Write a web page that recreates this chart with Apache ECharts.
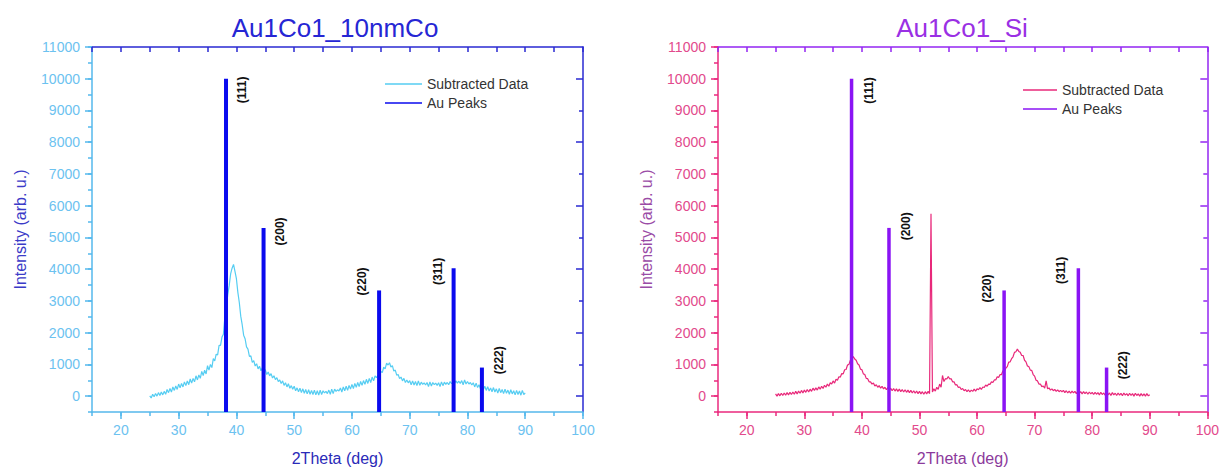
<!DOCTYPE html>
<html><head><meta charset="utf-8">
<script src="https://cdn.jsdelivr.net/npm/echarts@6/dist/echarts.min.js"></script>
<style>html,body{margin:0;padding:0;background:#fff}#c{width:1222px;height:471px}</style>
</head><body><div id="c"></div>
<script>
// ---- data ----
const thetaStart = 25, thetaStep = 0.25;   // sampling grid of the scans (25 .. 90 deg)
const leftIntensity = [
10,-60,60,-20, 80,0,110,20, 130,40,150,60, 210,110,240,130, 290,180,320,210,
380,260,400,290, 450,330,480,360, 540,410,560,450, 640,510,670,560, 780,650,820,700,
960,820,1000,900, 1180,1110,1320,1300, 1600,1600,1860,1950, 2500,2780,3200,3480, 3850,4030,4150,3930,
3700,3270,2950,2520, 2250,1920,1810,1550, 1480,1250,1270,1060, 1120,950,1020,860, 940,800,890,750,
830,680,760,640, 710,570,640,520, 580,460,510,400, 480,340,420,290, 390,250,330,220,
310,170,260,140, 250,110,230,90, 210,70,200,60, 180,50,190,40, 170,30,190,50,
170,100,150,80, 190,60,220,80, 220,150,200,160, 260,130,290,170, 310,180,340,220,
370,240,400,280, 430,300,460,340, 490,370,530,400, 560,430,600,480, 640,580,660,640,
780,740,910,860, 1040,980,1050,920, 960,790,820,660, 680,550,600,480, 560,430,510,420,
490,360,480,350, 460,330,480,340, 440,370,420,350, 430,300,450,320, 430,360,410,340,
420,300,450,330, 440,370,430,360, 460,390,450,400, 480,410,470,400, 490,360,510,380,
460,380,430,350, 420,290,410,270, 360,230,350,210, 310,180,300,160, 260,140,270,130,
230,100,240,110, 210,80,220,90, 190,60,200,70, 170,40,180,50, 160,30,180,50,
100];
const rightIntensity = [
70,0,80,10, 90,20,100,30, 110,40,120,50, 130,60,150,70, 160,90,180,100,
190,120,210,130, 220,150,250,180, 260,190,290,220, 310,240,340,280, 380,310,420,380,
480,410,530,500, 610,600,710,700, 830,840,980,1000, 1130,1150,1250,1170, 1130,1020,980,850,
830,700,680,560, 550,450,450,380, 410,320,360,280, 330,250,310,230, 280,200,270,190,
250,170,240,160, 230,150,220,140, 210,130,200,120, 190,110,180,100, 170,90,160,80,
150,70,140,60, 140,70,150,80, 5750,130,230,160, 280,210,380,280, 650,460,550,540,
620,540,550,450, 450,350,360,270, 290,210,240,170, 210,140,200,130, 190,150,220,160,
230,200,270,210, 290,270,350,310, 380,370,450,430, 510,510,610,590, 680,680,800,790,
880,930,1070,1080, 1180,1240,1380,1400, 1480,1410,1380,1280, 1280,1130,1080,950, 930,820,810,680,
630,500,480,380, 380,300,320,250, 480,230,260,190, 230,170,210,150, 200,140,180,140,
180,110,170,100, 160,90,160,100, 150,80,150,90, 140,70,140,80, 130,60,130,70,
120,50,120,60, 110,40,120,50, 100,30,110,40, 100,20,110,40, 90,20,100,30,
90,10,100,30, 80,10,90,20, 80,0,90,20, 70,0,80,10, 70,0,80,10,
40];
const peakTheta = [38.2, 44.7, 64.7, 77.6, 82.5];
const peakIntensity = [10000, 5300, 3330, 4030, 900];
const peakLabels = ['(111)', '(200)', '(220)', '(311)', '(222)'];
// label anchor points (2theta, intensity) of the hkl annotations
const leftLabelTheta = [41.0, 47.6, 61.7, 74.9, 85.4];
const leftLabelY = [9650, 5190, 3615, 3930, 1130];
const rightLabelTheta = [41.3, 47.6, 61.7, 74.5, 85.4];
const rightLabelY = [9630, 5350, 3390, 3960, 970];
const xMajorTicks = [20, 30, 40, 50, 60, 70, 80, 90, 100];
const yMajorTicks = [0,1000,2000,3000,4000,5000,6000,7000,8000,9000,10000,11000];
const yRightLong = [0,2000,4000,6000,8000,10000];
const yRightShort = [1000,3000,5000,7000,9000];

// ---- chart ----
const FONT = '"Liberation Sans", Arial, sans-serif';
const X_MIN = 15, X_MAX = 100, Y_MIN = -500, Y_MAX = 11000;
const toPoints = arr => arr.map((v, i) => [thetaStart + i * thetaStep, v]);

const themes = [
  {lo:'#55b8ec', lab:'#6cc2f0', hi:'#2a2ad2', yName:'#3b3bc8', xName:'#2a2ab8',
   curve:'#55cdf2', peak:'#0a0aee', peakW:4, title:'Au1Co1_10nmCo', titleColor:'#2626d4',
   labTheta:leftLabelTheta, labY:leftLabelY, data:leftIntensity, sfx:''},
  {lo:'#ea2a7e', lab:'#e24a8c', hi:'#9326f2', yName:'#9a4ca6', xName:'#8c3a9c',
   curve:'#e8287a', peak:'#8a14f4', peakW:3.5, title:'Au1Co1_Si', titleColor:'#9a30e4',
   labTheta:rightLabelTheta, labY:rightLabelY, data:rightIntensity, sfx:' '}
];
const gridLefts = [92, 718];

const grids = [], xAxes = [], yAxes = [], series = [], legends = [], graphics = [];
themes.forEach((t, g) => {
  grids.push({left: gridLefts[g], top: 47, width: 491, height: 365});
  const base = {gridIndex: g, type: 'value', min: X_MIN, max: X_MAX, interval: 5, splitLine: {show: false}};
  xAxes.push(Object.assign({}, base, {position: 'bottom',
    axisLine: {onZero: false, lineStyle: {color: t.lo, width: 1.5}},
    axisTick: {length: 4, lineStyle: {color: t.lo, width: 1.5}},
    axisLabel: {formatter: v => (v % 10 === 0 ? String(v) : ''), color: t.lab, fontSize: 14, fontFamily: FONT, margin: 11},
    name: '2Theta (deg)', nameLocation: 'middle', nameGap: 38,
    nameTextStyle: {color: t.xName, fontSize: 16, fontFamily: FONT}}));
  xAxes.push(Object.assign({}, base, {position: 'bottom',
    axisLine: {show: false, onZero: false},
    axisTick: {length: 7, customValues: xMajorTicks, lineStyle: {color: t.lo, width: 1.5}},
    axisLabel: {show: false}}));
  xAxes.push(Object.assign({}, base, {position: 'top',
    axisLine: {onZero: false, lineStyle: {color: t.hi, width: 1.5}},
    axisTick: {inside: true, length: 5, lineStyle: {color: t.hi, width: 1.5}},
    axisLabel: {show: false}}));
  const ybase = {gridIndex: g, type: 'value', min: Y_MIN, max: Y_MAX, interval: 500, splitLine: {show: false}};
  yAxes.push(Object.assign({}, ybase, {position: 'left',
    axisLine: {onZero: false, lineStyle: {color: t.lo, width: 1.5}},
    axisTick: {length: 4, lineStyle: {color: t.lo, width: 1.5}},
    axisLabel: {formatter: v => (v >= 0 && v % 1000 === 0 ? String(v) : ''), color: t.lab, fontSize: 14, fontFamily: FONT, margin: 12},
    name: 'Intensity (arb. u.)', nameLocation: 'middle', nameGap: 64,
    nameTextStyle: {color: t.yName, fontSize: 16, fontFamily: FONT}}));
  yAxes.push(Object.assign({}, ybase, {position: 'left',
    axisLine: {show: false, onZero: false},
    axisTick: {length: 7, customValues: yMajorTicks, lineStyle: {color: t.lo, width: 1.5}},
    axisLabel: {show: false}}));
  yAxes.push(Object.assign({}, ybase, {position: 'right',
    axisLine: {onZero: false, lineStyle: {color: t.hi, width: 1.5}},
    axisTick: {inside: true, length: 4, customValues: yRightShort, lineStyle: {color: t.hi, width: 1.5}},
    axisLabel: {show: false}}));
  yAxes.push(Object.assign({}, ybase, {position: 'right',
    axisLine: {show: false, onZero: false},
    axisTick: {inside: true, length: 7, customValues: yRightLong, lineStyle: {color: t.hi, width: 1.5}},
    axisLabel: {show: false}}));

  series.push({type: 'line', name: 'Subtracted Data' + t.sfx, xAxisIndex: g * 3, yAxisIndex: g * 4,
    data: toPoints(t.data), showSymbol: false, symbol: 'none', color: t.curve,
    lineStyle: {width: 1.2, color: t.curve}, z: 2});
  series.push({type: 'custom', name: 'Au Peaks' + t.sfx, xAxisIndex: g * 3, yAxisIndex: g * 4,
    color: t.peak, itemStyle: {color: t.peak}, z: 3, clip: false,
    data: peakTheta.map((x, i) => [x, peakIntensity[i]]),
    renderItem: (params, api) => {
      const i = params.dataIndex;
      const top = api.coord([api.value(0), api.value(1)]);
      const bot = api.coord([api.value(0), Y_MIN]);
      const lp = api.coord([t.labTheta[i], t.labY[i]]);
      return {type: 'group', children: [
        {type: 'rect', shape: {x: top[0] - t.peakW / 2, y: top[1], width: t.peakW, height: bot[1] - top[1]},
         style: {fill: t.peak}},
        {type: 'text', x: lp[0], y: lp[1], rotation: Math.PI / 2,
         style: {text: peakLabels[i], font: 'bold 12px ' + FONT, fill: '#111',
                 align: 'center', verticalAlign: 'middle'}}
      ]};
    }});
  legends.push({orient: 'vertical', left: g === 0 ? 385 : 1023, top: g === 0 ? 77 : 83,
    padding: 0, itemGap: 5, itemWidth: g === 0 ? 37 : 34, itemHeight: 1.5, icon: 'rect',
    data: ['Subtracted Data' + t.sfx, 'Au Peaks' + t.sfx], formatter: n => n.trim(),
    textStyle: {fontSize: 14, lineHeight: 14, color: '#333', fontFamily: FONT}});
  graphics.push({type: 'text', x: g === 0 ? 335 : 962, y: 28,
    style: {text: t.title, font: '26px ' + FONT, fill: t.titleColor, align: 'center', verticalAlign: 'middle'}});
});

const chart = echarts.init(document.getElementById('c'), null, {renderer: 'svg'});
chart.setOption({
  animation: false,
  backgroundColor: '#fff',
  grid: grids, xAxis: xAxes, yAxis: yAxes, series: series, legend: legends, graphic: graphics
});
</script></body></html>
